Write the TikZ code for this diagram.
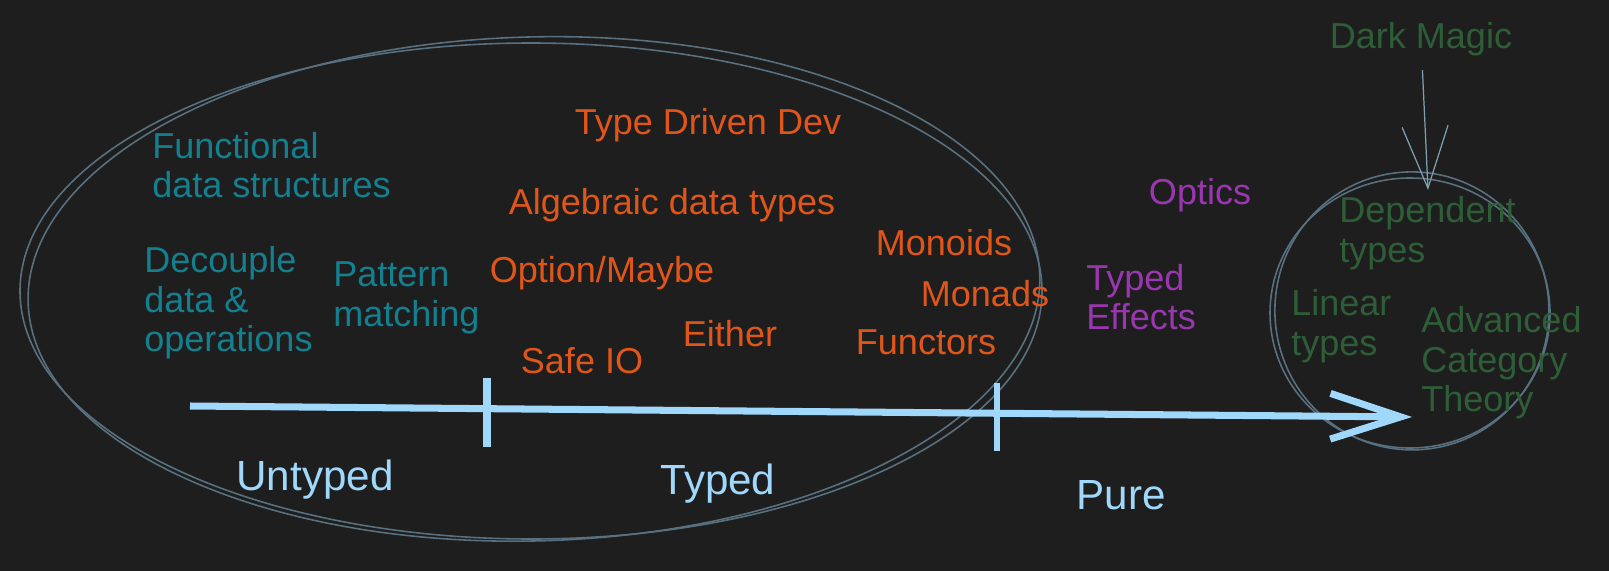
\documentclass[tikz,border=0pt]{standalone}
\usepackage{fontspec}
\setmainfont{Liberation Sans}
\usetikzlibrary{arrows.meta}
\definecolor{bgdark}{HTML}{1E1E1E}
\definecolor{axisblue}{HTML}{A0D8FB}
\definecolor{ringgray}{HTML}{58707F}
\definecolor{arrowgray}{HTML}{7F9FB3}
\definecolor{tealtxt}{HTML}{14808F}
\definecolor{orangetxt}{HTML}{E0561A}
\definecolor{purpletxt}{HTML}{9A37B0}
\definecolor{greentxt}{HTML}{2D5E37}

\begin{document}
\begin{tikzpicture}[x=0.02cm,y=-0.02cm,
  txt/.style={inner sep=0pt,font=\fontsize{20.5}{22.5}\selectfont},
  blocktxt/.style={txt,align=left,anchor=west},
  zone/.style={inner sep=0pt,text=axisblue,font=\fontsize{24}{26}\selectfont},
  ring/.style={draw=ringgray,line width=0.9pt},
  axisline/.style={draw=axisblue,line width=4pt},
  magicarrow/.style={draw=arrowgray,line width=0.7pt,
    -{Straight Barb[length=1.24cm,width=0.92cm]}}]
% ---------- canvas ----------
\fill[bgdark] (0,0) rectangle (1609,571);
\useasboundingbox (0,0) rectangle (1609,571);
% ---------- rings (two strokes each) ----------
\draw[ring] (531,291) ellipse [x radius=511, y radius=248];
\draw[ring,rotate around={1.5:(531,291)}] (534,289) ellipse [x radius=506, y radius=252];
\draw[ring] (1410,313) ellipse [x radius=140, y radius=135];
\draw[ring,rotate around={3:(1410,313)}] (1412,311) ellipse [x radius=137, y radius=139];
% ---------- axis ----------
\coordinate (axL) at (190,406);
\coordinate (axR) at (1412,417);
\coordinate (tickA1) at (487,378);
\coordinate (tickA2) at (487,447);
\coordinate (tickB1) at (997,383);
\coordinate (tickB2) at (997,451);
\draw[axisline,-{Straight Barb[length=40pt,width=26pt]}] (axL) -- (axR);
\draw[axisline,line width=5pt] (tickA1) -- (tickA2);
\draw[axisline,line width=3pt] (tickB1) -- (tickB2);
\node[zone] (untyped) at (315,480) {Untyped};
\node[zone] (typed) at (718,484) {Typed};
\node[zone] (pure) at (1121,495) {Pure};
% ---------- untyped ----------
\node[blocktxt,text=tealtxt] (fds) at (152,165) {Functional\\data structures};
\node[blocktxt,text=tealtxt] (decouple) at (144,303) {Decouple\\data \&\\operations};
\node[blocktxt,text=tealtxt] (pattern) at (333,298) {Pattern\\matching};
% ---------- typed ----------
\node[txt,text=orangetxt] (tdd) at (708,125) {Type Driven Dev};
\node[txt,text=orangetxt] (adt) at (672,205) {Algebraic data types};
\node[txt,text=orangetxt] (monoids) at (944,243) {Monoids};
\node[txt,text=orangetxt] (option) at (602,273) {Option/Maybe};
\node[txt,text=orangetxt] (monads) at (985,294) {Monads};
\node[txt,text=orangetxt] (either) at (730,334) {Either};
\node[txt,text=orangetxt] (functors) at (926,342) {Functors};
\node[txt,text=orangetxt] (safeio) at (582,361) {Safe IO};
% ---------- pure ----------
\node[txt,text=purpletxt] (optics) at (1200,195) {Optics};
\node[blocktxt,text=purpletxt] (effects) at (1086,297) {Typed\\Effects};
% ---------- dark magic ----------
\node[txt,text=greentxt] (magic) at (1421,39) {Dark Magic};
\node[blocktxt,text=greentxt] (dependent) at (1339,233) {Dependent\\types};
\node[blocktxt,text=greentxt] (linear) at (1291,326) {Linear\\types};
\node[blocktxt,text=greentxt] (category) at (1421,363) {Advanced\\Category\\Theory};
\coordinate (ringtop) at (1428,190);
\draw[magicarrow,shorten <=8pt] (magic) -- (ringtop);
\end{tikzpicture}
\end{document}
